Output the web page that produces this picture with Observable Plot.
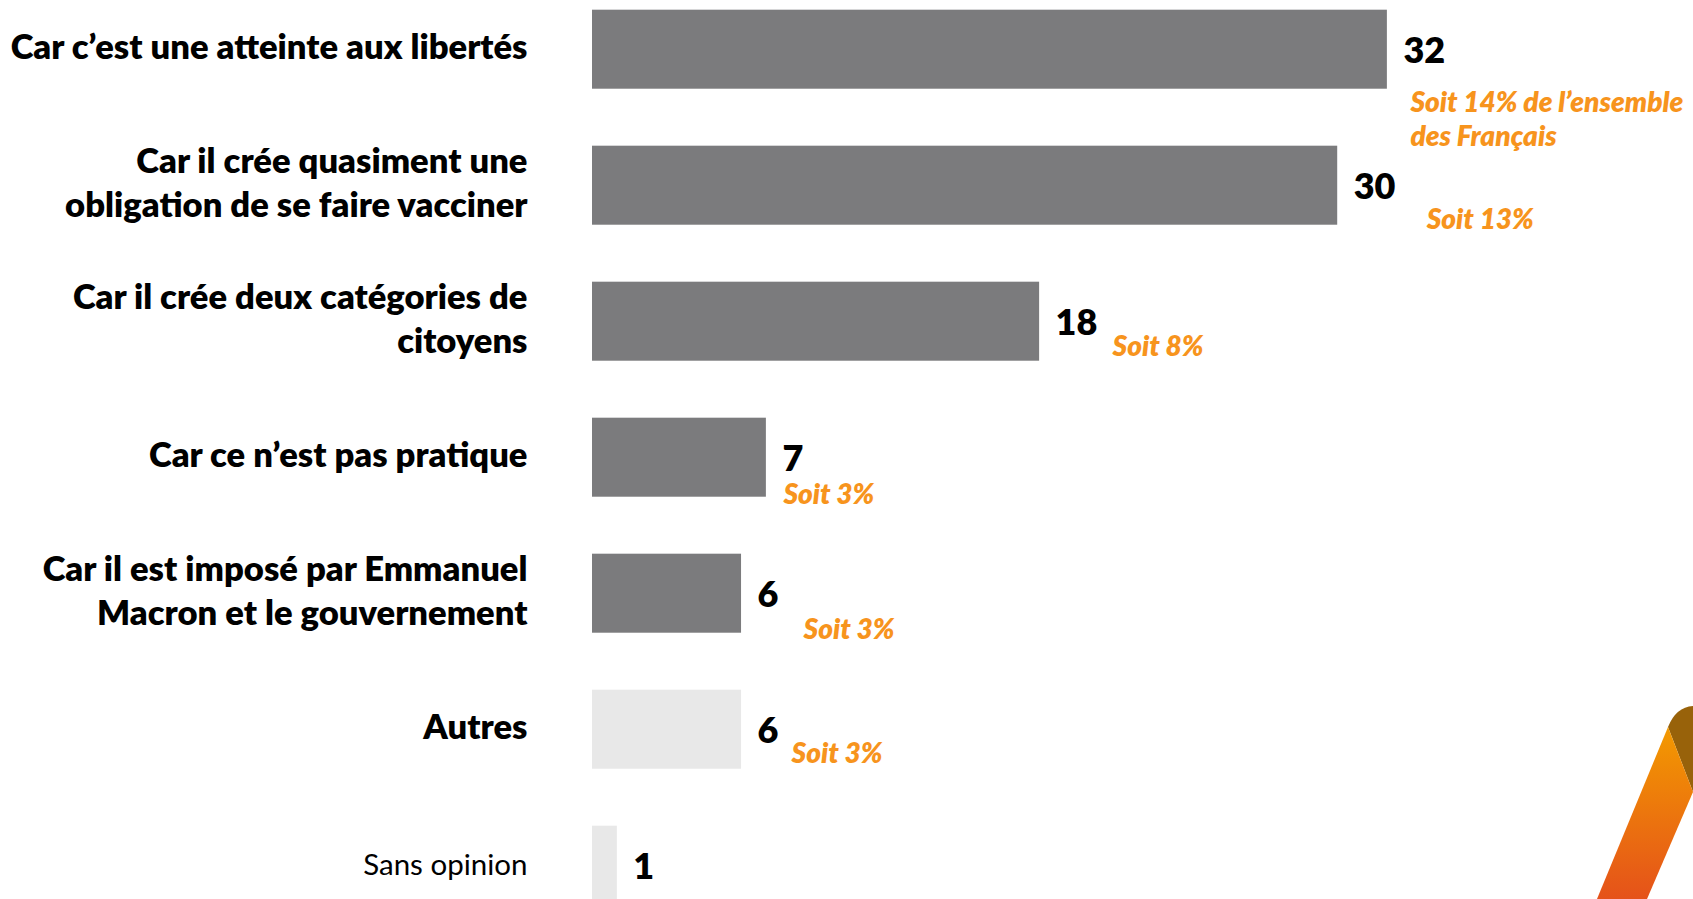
<!DOCTYPE html>
<html>
<head>
<meta charset="utf-8">
<script src="https://cdn.jsdelivr.net/npm/d3@7"></script>
<script src="https://cdn.jsdelivr.net/npm/@observablehq/plot@0.6"></script>
<style>
  html, body { margin: 0; padding: 0; background: #ffffff; overflow: hidden; }
  #wrap { position: relative; width: 1693px; height: 899px; }
  #deco { position: absolute; left: 0; top: 0; pointer-events: none; }
</style>
</head>
<body>
<div id="wrap"></div>
<script>
// ---- data ----
const categories = [
  "Car c’est une atteinte aux libertés",
  "Car il crée quasiment une\nobligation de se faire vacciner",
  "Car il crée deux catégories de\ncitoyens",
  "Car ce n’est pas pratique",
  "Car il est imposé par Emmanuel\nMacron et le gouvernement",
  "Autres",
  "Sans opinion"
];
const values = [32, 30, 18, 7, 6, 6, 1];
const kinds = ["raison", "raison", "raison", "raison", "raison", "autre", "autre"];
const soitLabels = [
  "Soit 14% de l’ensemble\ndes Français",
  "Soit 13%",
  "Soit 8%",
  "Soit 3%",
  "Soit 3%",
  "Soit 3%",
  null
];

// ---- layout nudges for the orange annotations (pixels from bar end / band centre) ----
const soitNudge = [[23, 68], [89, 32], [73, 23], [17, 35], [62, 34], [50, 22]];

const data = categories.map((c, i) => ({category: c, value: values[i], kind: kinds[i], soit: soitLabels[i]}));

const FONT = "Lato, 'Open Sans', sans-serif";
const W = 1693, H = 899;

const soitMarks = soitNudge.map(([dx, dy], i) =>
  Plot.text([data[i]], {
    x: "value", y: "category", text: "soit",
    dx, dy, textAnchor: "start", lineAnchor: "middle",
    fill: "#F7941D", fontSize: 28, fontWeight: 800, fontStyle: "italic",
    fontFamily: FONT, lineHeight: 1.23
  })
);

const chart = Plot.plot({
  width: W,
  height: H,
  margin: 0,
  style: {background: "white", fontFamily: FONT},
  x: {domain: [0, 44], range: [592, 592 + 44 * 24.84], axis: null},
  y: {type: "band", domain: categories, range: [-18.8, 933.2], paddingInner: 0.419, paddingOuter: 0.2095, round: false, axis: null},
  color: {domain: ["raison", "autre"], range: ["#7B7B7D", "#E8E8E8"]},
  marks: [
    Plot.barX(data, {x: "value", y: "category", fill: "kind"}),
    Plot.text(data.filter(d => d.category !== "Sans opinion"), {
      x: 0, y: "category", text: "category", dx: -65, dy: -5,
      textAnchor: "end", fill: "#000", fontSize: 34.6, fontWeight: 800,
      fontFamily: FONT, lineHeight: 1.28
    }),
    Plot.text(data.filter(d => d.category === "Sans opinion"), {
      x: 0, y: "category", text: "category", dx: -65,
      textAnchor: "end", fill: "#000", fontSize: 29.5, fontWeight: "normal",
      fontFamily: FONT
    }),
    Plot.text(data, {
      x: "value", y: "category", text: d => String(d.value), dx: 16, dy: 2,
      textAnchor: "start", fill: "#000", fontSize: 36, fontWeight: 800,
      fontFamily: FONT
    }),
    ...soitMarks
  ]
});

const wrap = document.getElementById("wrap");
wrap.appendChild(chart);

// decorative ribbon (bottom-right corner), not data
const ns = "http://www.w3.org/2000/svg";
const deco = document.createElementNS(ns, "svg");
deco.setAttribute("id", "deco");
deco.setAttribute("width", W);
deco.setAttribute("height", H);
deco.innerHTML = `
  <defs>
    <linearGradient id="rib" x1="0" y1="0" x2="0" y2="1">
      <stop offset="0" stop-color="#F39A00"/>
      <stop offset="1" stop-color="#E5521A"/>
    </linearGradient>
  </defs>
  <path d="M1668,727 Q1676,707 1693,706 L1693,792 Z" fill="#98620A"/>
  <path d="M1668,727 L1693,792 L1647,899 L1597,899 Z" fill="url(#rib)"/>
`;
wrap.appendChild(deco);
</script>
</body>
</html>
